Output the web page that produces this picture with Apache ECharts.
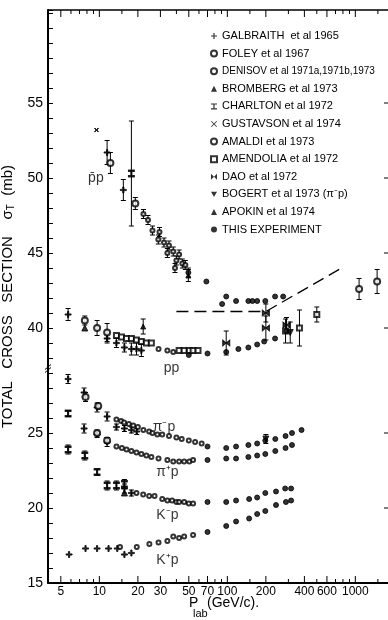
<!DOCTYPE html>
<html>
<head>
<meta charset="utf-8">
<script src="https://cdn.jsdelivr.net/npm/echarts@6/dist/echarts.min.js"></script>
<style>
  html, body { margin: 0; padding: 0; background: #fff; }
  #chart { width: 388px; height: 620px; }
</style>
</head>
<body>
<div id="chart"></div>
<script>
// points are [p_lab (GeV/c), sigma_T (mb), error (mb)]
const galbraith = [
  [11.5, 51.7, 0.8], [15.4, 49.2, 0.7],
  [5.7, 40.9, 0.4], [11.5, 39.3, 0.3], [13.6, 39.0, 0.3], [15.7, 38.7, 0.3], [17.8, 38.6, 0.4], [19.5, 38.6, 0.4], [21.3, 38.5, 0.4],
  [5.7, 28.6, 0.3], [7.6, 27.7, 0.3], [9.6, 26.7, 0.3], [11.5, 26.1, 0.3], [13.6, 25.4, 0.2], [15.7, 25.3, 0.2], [17.8, 25.2, 0.2], [19.6, 25.1, 0.2],
  [7.6, 25.3, 0.3], [9.6, 24.9, 0.2], [11.5, 24.4, 0.3],
  [15.7, 21.3, 0.3], [17.8, 21.0, 0.2],
  [5.8, 16.9, 0], [7.8, 17.3, 0], [9.6, 17.3, 0], [11.8, 17.3, 0], [13.8, 17.3, 0], [15.7, 16.9, 0], [17.8, 17.0, 0]
];
const foley = [
  [12.2, 51.0, 0.7], [19.1, 48.3, 0.4],
  [7.7, 40.5, 0.3], [9.6, 40.0, 0.5], [11.5, 39.7, 0.6],
  [7.8, 27.4, 0.3], [9.8, 26.8, 0.2],
  [9.6, 25.0, 0.2], [11.5, 24.5, 0.2]
];
const denisov = [
  [22.1, 47.6, 0.3], [24, 47.2, 0.3], [26, 46.5, 0.3], [28.9, 45.9, 0.3], [29.5, 46.4, 0.3], [32, 45.7, 0.3], [34, 45.0, 0.3],
  [35, 45.5, 0.3], [37.8, 45.1, 0.3], [39, 44.0, 0.3], [40, 44.5, 0.3], [42, 44.9, 0.3], [44.5, 44.3, 0.3], [47, 44.2, 0.3],
  [29, 38.6, 0], [34, 38.5, 0], [37.8, 38.4, 0],
  [13.6, 25.9, 0], [14.8, 25.8, 0], [15.6, 25.7, 0], [17, 25.6, 0], [18.4, 25.5, 0], [20, 25.4, 0], [22.1, 25.2, 0], [24.5, 25.1, 0],
  [26, 25.0, 0], [28.4, 24.9, 0], [31, 24.9, 0], [35, 24.8, 0], [40, 24.7, 0], [44, 24.6, 0], [50, 24.5, 0], [56, 24.4, 0], [63, 24.3, 0],
  [13.6, 24.1, 0], [15, 24.0, 0], [16.3, 23.9, 0], [17.8, 23.8, 0], [19.5, 23.7, 0], [21.3, 23.6, 0], [23.3, 23.5, 0], [25.5, 23.4, 0],
  [29, 23.3, 0], [34, 23.2, 0], [37.8, 23.1, 0], [42, 23.1, 0], [46, 23.1, 0], [50.5, 23.1, 0], [54, 23.2, 0],
  [19.5, 21.0, 0], [22, 20.9, 0], [24.5, 20.8, 0], [27, 20.8, 0], [31, 20.6, 0], [34, 20.5, 0], [37, 20.5, 0], [40, 20.4, 0],
  [42, 20.4, 0], [46, 20.4, 0], [50, 20.3, 0], [54, 20.3, 0],
  [14.5, 17.4, 0], [19.6, 17.4, 0], [24.6, 17.6, 0], [29, 17.7, 0], [34, 17.8, 0], [37.8, 18.1, 0], [42, 18.0, 0], [46, 18.1, 0], [54, 18.2, 0]
];
const bromberg = [[7.7, 40.0, 0], [15.7, 21.0, 0]];
const charlton = [
  [17.8, 50.3, 3.5],
  [5.7, 26.3, 0.2],
  [5.7, 23.9, 0.3], [7.7, 23.5, 0.3], [9.6, 22.4, 0.2], [11.5, 21.5, 0.3], [13.6, 21.5, 0.3], [15.7, 21.6, 0.3]
];
const gustavson = [[9.5, 53.2, 0]];
const amaldi = [[1070, 42.6, 0.7], [1480, 43.1, 0.8]];
const amendolia = [
  [13.6, 39.5, 0], [14.9, 39.4, 0], [16.3, 39.3, 0], [17.8, 39.3, 0], [19.5, 39.2, 0], [21.3, 39.1, 0], [23.3, 39.0, 0], [25.5, 39.0, 0],
  [42, 38.5, 0], [46, 38.5, 0], [50.5, 38.5, 0], [54, 38.5, 0], [59, 38.5, 0],
  [285, 39.8, 0.8], [366, 40.0, 1.2], [500, 40.9, 0.5]
];
const dao = [[98, 39.0, 0.8], [200, 40.0, 0.8], [290, 40.2, 0.5], [200, 41.0, 0.6]];
const bogert = [[200, 24.6, 0.3], [310, 39.7, 0.7]];
const apokin = [[49.6, 43.5, 0.4], [22, 40.1, 0.5]];
const thisExp = [
  [49.6, 43.7, 0.3], [68.6, 43.1, 0], [91, 41.6, 0], [98, 42.1, 0], [117, 41.8, 0], [146, 41.8, 0], [157, 41.8, 0], [171, 41.8, 0],
  [198, 41.8, 0], [236, 42.1, 0], [273, 42.1, 0],
  [50, 38.2, 0], [70, 38.3, 0], [98, 38.4, 0], [122, 38.6, 0], [146, 38.7, 0], [171, 38.9, 0], [194, 39.1, 0], [236, 39.3, 0], [290, 39.8, 0],
  [70, 24.1, 0], [98, 24.0, 0], [117, 24.1, 0], [146, 24.2, 0], [171, 24.3, 0], [198, 24.5, 0], [237, 24.6, 0], [285, 24.8, 0], [320, 25.0, 0], [380, 25.2, 0],
  [70, 23.2, 0], [98, 23.3, 0], [117, 23.3, 0], [146, 23.4, 0], [171, 23.5, 0], [198, 23.6, 0], [237, 23.8, 0], [285, 24.0, 0], [320, 24.2, 0],
  [70, 20.4, 0], [98, 20.4, 0], [117, 20.5, 0], [148, 20.6, 0], [171, 20.7, 0], [198, 21.0, 0], [240, 21.1, 0], [283, 21.3, 0], [315, 21.3, 0],
  [70, 18.4, 0], [98, 18.8, 0], [117, 19.1, 0], [148, 19.3, 0], [171, 19.6, 0], [198, 19.8, 0], [240, 20.2, 0], [287, 20.4, 0], [315, 20.5, 0]
];
// dashed curve [p, sigma]
const dashedCurve = [[40, 41.1], [200, 41.1], [820, 44.1]];

// reaction labels [p, sigma, text]
const reactionLabels = [
  [9.4, 50.0, 'p\u0304p'], [36.6, 37.3, 'pp'], [32, 25.4, '\u03c0\u207bp'],
  [34, 22.4, '\u03c0\u207ap'], [34, 19.5, 'K\u207bp'], [34, 16.5, 'K\u207ap']
];
// axis ticks
const xMajorTicks = [5, 10, 20, 30, 50, 70, 100, 200, 400, 600, 1000];
const xMinorTicks = [6, 7, 8, 9, 15, 40, 60, 80, 90, 150, 300, 500, 700, 800, 900, 1500];
const yLabels = [15, 20, 25, 40, 45, 50, 55];
const yRightTicks = [20, 25, 40, 45, 50, 55];

const xMin = 3.97, xMax = 1866, yMin = 23, yMax = 61.2;
const SHIFT = 8; // lower panel (pi, K) is drawn shifted up by 8 mb
const disp = s => (s < 35 ? s + SHIFT : s);
const FONT = 'Liberation Sans, Arial, sans-serif';

const PLUS = 'path://M4,0H6V4H10V6H6V10H4V6H0V4H4Z';
const IBEAM = 'path://M0,0H10V2H6V8H10V10H0V8H4V2H0Z';
const CROSS = 'path://M0,1L1,0L5,4L9,0L10,1L6,5L10,9L9,10L5,6L1,10L0,9L4,5Z';
const BOWTIE = 'path://M0,0L5,5L10,0V10L5,5L0,10Z';
const DOWNTRI = 'path://M0,0H10L5,9Z';

const experiments = [
  {name: 'GALBRAITH  et al 1965', data: galbraith, symbol: PLUS, size: 6},
  {name: 'FOLEY et al 1967', data: foley, symbol: 'emptyCircle', size: 6},
  {name: 'DENISOV et al 1971a,1971b,1973', data: denisov, symbol: 'emptyCircle', size: 4, font: 10},
  {name: 'BROMBERG et al 1973', data: bromberg, symbol: 'triangle', size: 6},
  {name: 'CHARLTON et al 1972', data: charlton, symbol: IBEAM, size: [6, 7]},
  {name: 'GUSTAVSON et al 1974', data: gustavson, symbol: CROSS, size: 4},
  {name: 'AMALDI et al 1973', data: amaldi, symbol: 'emptyCircle', size: 6},
  {name: 'AMENDOLIA et al 1972', data: amendolia, symbol: 'emptyRect', size: 5},
  {name: 'DAO et al 1972', data: dao, symbol: BOWTIE, size: [7, 6]},
  {name: 'BOGERT et al 1973 (\u03c0\u207bp)', data: bogert, symbol: DOWNTRI, size: 6},
  {name: 'APOKIN et al 1974', data: apokin, symbol: 'triangle', size: 5},
  {name: 'THIS EXPERIMENT', data: thisExp, symbol: 'circle', size: 5}
];

const allErrors = [];
experiments.forEach(e => e.data.forEach(d => { if (d[2] > 0) allErrors.push([d[0], disp(d[1]), d[2]]); }));

const chart = echarts.init(document.getElementById('chart'), null, {renderer: 'canvas'});

const series = [];

series.push({
  type: 'custom', name: 'errors', z: 2, silent: true,
  data: allErrors,
  encode: {x: 0, y: 1},
  renderItem: function (params, api) {
    const x = api.value(0), y = api.value(1), e = api.value(2);
    const t = api.coord([x, y + e]), b = api.coord([x, y - e]);
    const st = {stroke: '#000', lineWidth: 1};
    return {type: 'group', children: [
      {type: 'line', shape: {x1: t[0], y1: t[1], x2: b[0], y2: b[1]}, style: st},
      {type: 'line', shape: {x1: t[0] - 2.5, y1: t[1], x2: t[0] + 2.5, y2: t[1]}, style: st},
      {type: 'line', shape: {x1: b[0] - 2.5, y1: b[1], x2: b[0] + 2.5, y2: b[1]}, style: st}
    ]};
  }
});

experiments.forEach(e => {
  series.push({
    type: 'scatter', name: e.name, z: 3,
    symbol: e.symbol, symbolSize: e.size,
    itemStyle: {color: '#000', borderColor: '#000'},
    data: e.data.map(d => [d[0], disp(d[1])])
  });
});

series.push({
  type: 'line', name: 'curve', z: 2, symbol: 'none', silent: true,
  lineStyle: {color: '#000', width: 1.3, type: [12, 6]},
  data: dashedCurve.map(d => [d[0], disp(d[1])])
});

series.push({
  type: 'scatter', name: 'reactions', symbolSize: 0, silent: true,
  data: reactionLabels.map(d => ({value: [d[0], disp(d[1])], name: d[2]})),
  label: {show: true, position: 'inside', formatter: '{b}', color: '#000', fontSize: 14, fontFamily: FONT}
});

// x axis ticks (bottom and top) with labels
series.push({
  type: 'custom', name: 'xticks', silent: true, clip: false, z: 4,
  data: xMajorTicks.map(v => [v, 1]).concat(xMinorTicks.map(v => [v, 0])),
  encode: {x: 0},
  renderItem: function (params, api) {
    const v = api.value(0), major = api.value(1) === 1;
    const b = api.coord([v, yMin]), t = api.coord([v, yMax]);
    const len = major ? 7 : 4;
    const st = {stroke: '#000', lineWidth: 1};
    const kids = [
      {type: 'line', shape: {x1: b[0], y1: b[1], x2: b[0], y2: b[1] - len}, style: st},
      {type: 'line', shape: {x1: t[0], y1: t[1], x2: t[0], y2: t[1] + len}, style: st}
    ];
    if (major) {
      kids.push({type: 'text', x: b[0], y: b[1] + 9, style: {text: String(v), fill: '#000', fontSize: 12, fontFamily: FONT, align: 'center', verticalAlign: 'middle'}});
    }
    return {type: 'group', children: kids};
  }
});

// right-side ticks and axis break mark
series.push({
  type: 'custom', name: 'yextra', silent: true, clip: false, z: 4,
  data: yRightTicks.map(v => [xMax, disp(v), 0]).concat([[xMin, 37.3, 1]]),
  encode: {x: 0, y: 1},
  renderItem: function (params, api) {
    const p = api.coord([api.value(0), api.value(1)]);
    const st = {stroke: '#000', lineWidth: 1};
    if (api.value(2) === 1) {
      return {type: 'group', children: [
        {type: 'line', shape: {x1: p[0] - 3, y1: p[1] + 1, x2: p[0] + 3, y2: p[1] - 4}, style: st},
        {type: 'line', shape: {x1: p[0] - 3, y1: p[1] + 4, x2: p[0] + 3, y2: p[1] - 1}, style: st}
      ]};
    }
    return {type: 'line', shape: {x1: p[0] - 6, y1: p[1], x2: p[0], y2: p[1]}, style: st};
  }
});

const option = {
  backgroundColor: '#fff',
  animation: false,
  textStyle: {fontFamily: FONT},
  grid: {left: 48, right: -2, top: 10, bottom: 37, outerBoundsMode: 'none'},
  legend: {
    orient: 'vertical', left: 205, top: 25,
    itemWidth: 6, itemHeight: 6, itemGap: 5.6,
    selectedMode: false,
    data: experiments.map(e => (e.font ? {name: e.name, textStyle: {fontSize: e.font}} : e.name)),
    textStyle: {color: '#000', fontSize: 11, lineHeight: 12, fontFamily: FONT}
  },
  // x-axis title: P with subscript lab, then (GeV/c).
  graphic: [
    {type: 'text', left: 189, top: 596, style: {text: 'P', fontSize: 14, fontFamily: FONT, fill: '#000'}},
    {type: 'text', left: 193, top: 608, style: {text: 'lab', fontSize: 11, fontFamily: FONT, fill: '#000'}},
    {type: 'text', left: 207, top: 596, style: {text: '(GeV/c).', fontSize: 14, fontFamily: FONT, fill: '#000'}}
  ],
  xAxis: [
    {
      type: 'log', min: xMin, max: xMax,
      axisLine: {show: true, lineStyle: {color: '#000', width: 2}},
      axisTick: {show: false}, axisLabel: {show: false}, splitLine: {show: false}
    },
    {
      type: 'log', min: xMin, max: xMax, position: 'top',
      axisLine: {show: true, lineStyle: {color: '#000', width: 1.5}},
      axisTick: {show: false}, axisLabel: {show: false}, splitLine: {show: false}
    }
  ],
  yAxis: {
    type: 'value', min: yMin, max: yMax, interval: 1,
    axisLine: {show: true, lineStyle: {color: '#000', width: 2}},
    axisTick: {show: true, inside: true, length: 5, lineStyle: {color: '#000'}},
    splitLine: {show: false},
    axisLabel: {
      margin: 5, color: '#000', fontSize: 14, fontFamily: FONT,
      formatter: function (v) {
        const r = Math.round(v);
        if (Math.abs(v - r) > 1e-6) return '';
        const real = r < 38 ? r - SHIFT : r;
        return yLabels.indexOf(real) >= 0 ? String(real) : '';
      }
    },
    name: '{t|TOTAL   CROSS   SECTION    \u03c3}{s|T}{t|  (mb)}',
    nameLocation: 'middle', nameGap: 18, nameRotate: 90,
    nameTextStyle: {
      rich: {
        t: {fontSize: 15, lineHeight: 18, verticalAlign: 'middle', fontFamily: FONT, color: '#000'},
        s: {fontSize: 10, lineHeight: 18, verticalAlign: 'bottom', fontFamily: FONT, color: '#000'}
      }
    }
  },
  series: series
};

chart.setOption(option);
</script>
</body>
</html>
